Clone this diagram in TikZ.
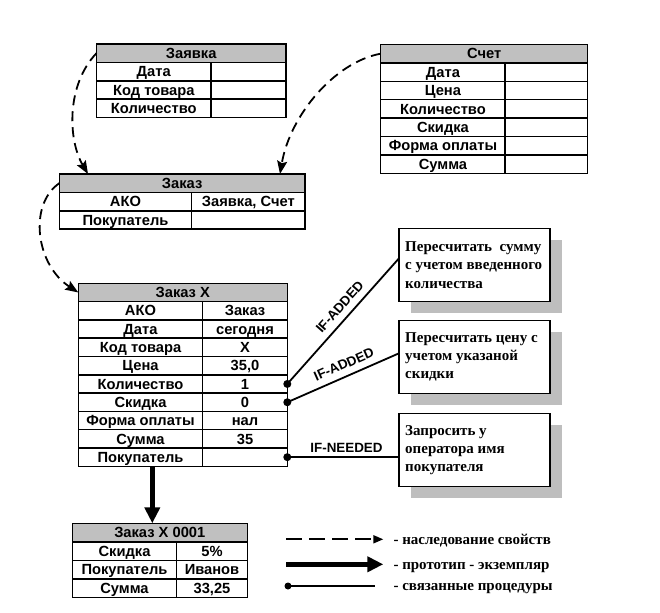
\documentclass[tikz,border=0pt]{standalone}
\usepackage{fontspec}
\setmainfont{Liberation Serif}
\setsansfont{Liberation Sans}
\usetikzlibrary{arrows.meta,shadows}
\definecolor{hdrgray}{RGB}{192,192,192}
\definecolor{shgray}{RGB}{190,190,190}
\tikzset{
  cell/.style={draw, line width=1.5pt, inner sep=0pt, outer sep=0pt, anchor=north west,
    text height=10.4pt, text depth=0pt, font=\sffamily\bfseries\fontsize{14.7}{14.7}\selectfont},
  hdrcell/.style={cell, fill=hdrgray},
  inherit/.style={line width=1.8pt, dash pattern=on 10pt off 6pt, -{Stealth[length=13pt,width=10pt,inset=2pt]}},
  inheritlegend/.style={line width=1.8pt, dash pattern=on 16pt off 7pt, -{Triangle[length=10pt,width=8pt]}},
  proto/.style={line width=4.5pt, -{Triangle[length=16pt,width=15pt]}},
  proc/.style={line width=1.8pt},
  procbox/.style={draw, line width=1.5pt, fill=white, minimum width=151pt, minimum height=73.4pt,
    inner sep=0pt, outer sep=0pt, general shadow={fill=shgray, shadow xshift=11.5pt, shadow yshift=-11.5pt}},
  proctext/.style={anchor=west, inner sep=0pt, align=left, font=\bfseries\fontsize{15}{18.3}\selectfont},
  iflabel/.style={font=\sffamily\bfseries\fontsize{13.4}{13.4}\selectfont, inner sep=0pt},
  legendtext/.style={anchor=west, inner sep=0pt, text height=9.5pt, text depth=0pt, font=\bfseries\fontsize{15}{15}\selectfont},
}
% header: name, anchor, width, height, text
\newcommand{\thead}[5]{\node[hdrcell, minimum width=#3pt, minimum height=#4pt] (#1) at (#2) {#5};}
% row: prefix, anchor, w1, w2, h, left, right
\newcommand{\trow}[7]{%
  \node[cell, minimum width=#3pt, minimum height=#5pt] (#1l) at (#2) {#6};
  \node[cell, minimum width=#4pt, minimum height=#5pt] (#1r) at (#1l.north east) {#7};}
\begin{document}
\begin{tikzpicture}[x=1pt, y=-1pt]
\useasboundingbox (0,0) rectangle (660,612);

% Заявка
\thead{zv}{96.5,44}{189.5}{18.4}{Заявка}
\trow{zvA}{zv.south west}{114.5}{75}{18.4}{Дата}{}
\trow{zvB}{zvAl.south west}{114.5}{75}{18.4}{Код товара}{}
\trow{zvC}{zvBl.south west}{114.5}{75}{18.4}{Количество}{}

% Счет
\thead{sc}{380.7,44.5}{207}{18.4}{Счет}
\trow{scA}{sc.south west}{124.5}{82.5}{18.4}{Дата}{}
\trow{scB}{scAl.south west}{124.5}{82.5}{18.4}{Цена}{}
\trow{scC}{scBl.south west}{124.5}{82.5}{18.4}{Количество}{}
\trow{scD}{scCl.south west}{124.5}{82.5}{18.4}{Скидка}{}
\trow{scE}{scDl.south west}{124.5}{82.5}{18.4}{Форма оплаты}{}
\trow{scF}{scEl.south west}{124.5}{82.5}{18.4}{Сумма}{}

% Заказ
\thead{zk}{59.3,174}{245.7}{18.4}{Заказ}
\trow{zkA}{zk.south west}{132.4}{113.3}{18.4}{АКО}{Заявка, Счет}
\trow{zkB}{zkAl.south west}{132.4}{113.3}{18.4}{Покупатель}{}

% Заказ X
\thead{zx}{78.3,283.3}{209}{18.3}{Заказ X}
\trow{zxA}{zx.south west}{124.4}{84.6}{18.3}{АКО}{Заказ}
\trow{zxB}{zxAl.south west}{124.4}{84.6}{18.3}{Дата}{сегодня}
\trow{zxC}{zxBl.south west}{124.4}{84.6}{18.3}{Код товара}{X}
\trow{zxD}{zxCl.south west}{124.4}{84.6}{18.3}{Цена}{35,0}
\trow{zxE}{zxDl.south west}{124.4}{84.6}{18.3}{Количество}{1}
\trow{zxF}{zxEl.south west}{124.4}{84.6}{18.3}{Скидка}{0}
\trow{zxG}{zxFl.south west}{124.4}{84.6}{18.3}{Форма оплаты}{нал}
\trow{zxH}{zxGl.south west}{124.4}{84.6}{18.3}{Сумма}{35}
\trow{zxI}{zxHl.south west}{124.4}{84.6}{18.3}{Покупатель}{}

% Заказ X 0001
\thead{zo}{72.3,523.3}{175}{18.5}{Заказ X 0001}
\trow{zoA}{zo.south west}{104.4}{70.6}{18.5}{Скидка}{5\%}
\trow{zoB}{zoAl.south west}{104.4}{70.6}{18.5}{Покупатель}{Иванов}
\trow{zoC}{zoBl.south west}{104.4}{70.6}{18.5}{Сумма}{33,25}

% procedure boxes
\node[procbox] (p1) at (474.5,265) {};
\node[proctext] (p1t) at ([xshift=6pt]p1.west) {Пересчитать~~сумму\\с учетом введенного\\количества};
\node[procbox] (p2) at (474.5,357) {};
\node[proctext] (p2t) at ([xshift=6pt]p2.west) {Пересчитать цену с\\учетом указаной\\скидки};
\node[procbox] (p3) at (474.5,450) {};
\node[proctext] (p3t) at ([xshift=6pt]p3.west) {Запросить у\\оператора имя\\покупателя};

% inheritance curves
\draw[inherit] (zv.west) .. controls (66,85) and (68,140) .. ([xshift=28.7pt]zk.north west);
\draw[inherit] (sc.west) .. controls (335,62) and (290,115) .. ([xshift=-25pt]zk.north east);
\draw[inherit] (zk.west) .. controls (28,205) and (36,265) .. (zx.west);

% procedure links
\draw[proc] (zxEr.east) -- node[iflabel, sloped, above=6.5pt, pos=0.55] {IF-ADDED} ([yshift=6.7pt]p1.west);
\draw[proc] (zxFr.east) -- node[iflabel, sloped, above=6.5pt, pos=0.55] {IF-ADDED} ([yshift=3.7pt]p2.west);
\draw[proc] (zxIr.east) -- node[iflabel, above=4pt, pos=0.53] {IF-NEEDED} (zxIr.east -| p3.west);
\fill (zxEr.east) circle (4pt);
\fill (zxFr.east) circle (4pt);
\fill (zxIr.east) circle (4pt);

% prototype -> instance
\draw[proto] ([xshift=11.8pt]zxIl.south) -- ([xshift=11.8pt]zxIl.south |- zo.north);

% legend
\coordinate (la1) at (286,539.3);
\node[legendtext] (lt1) at (393.3,539.3) {- наследование свойств};
\draw[inheritlegend] (la1) -- ([xshift=-10pt]lt1.west);
\coordinate (la2) at (286,564.3);
\node[legendtext] (lt2) at (393.3,564.3) {- прототип - экземпляр};
\draw[proto] (la2) -- ([xshift=-10pt]lt2.west);
\coordinate (la3) at (288,586);
\node[legendtext] (lt3) at (393.3,586) {- связанные процедуры};
\fill (la3) circle (3.5pt);
\draw[proc] (la3) -- ([xshift=-18pt]lt3.west);
\end{tikzpicture}
\end{document}
